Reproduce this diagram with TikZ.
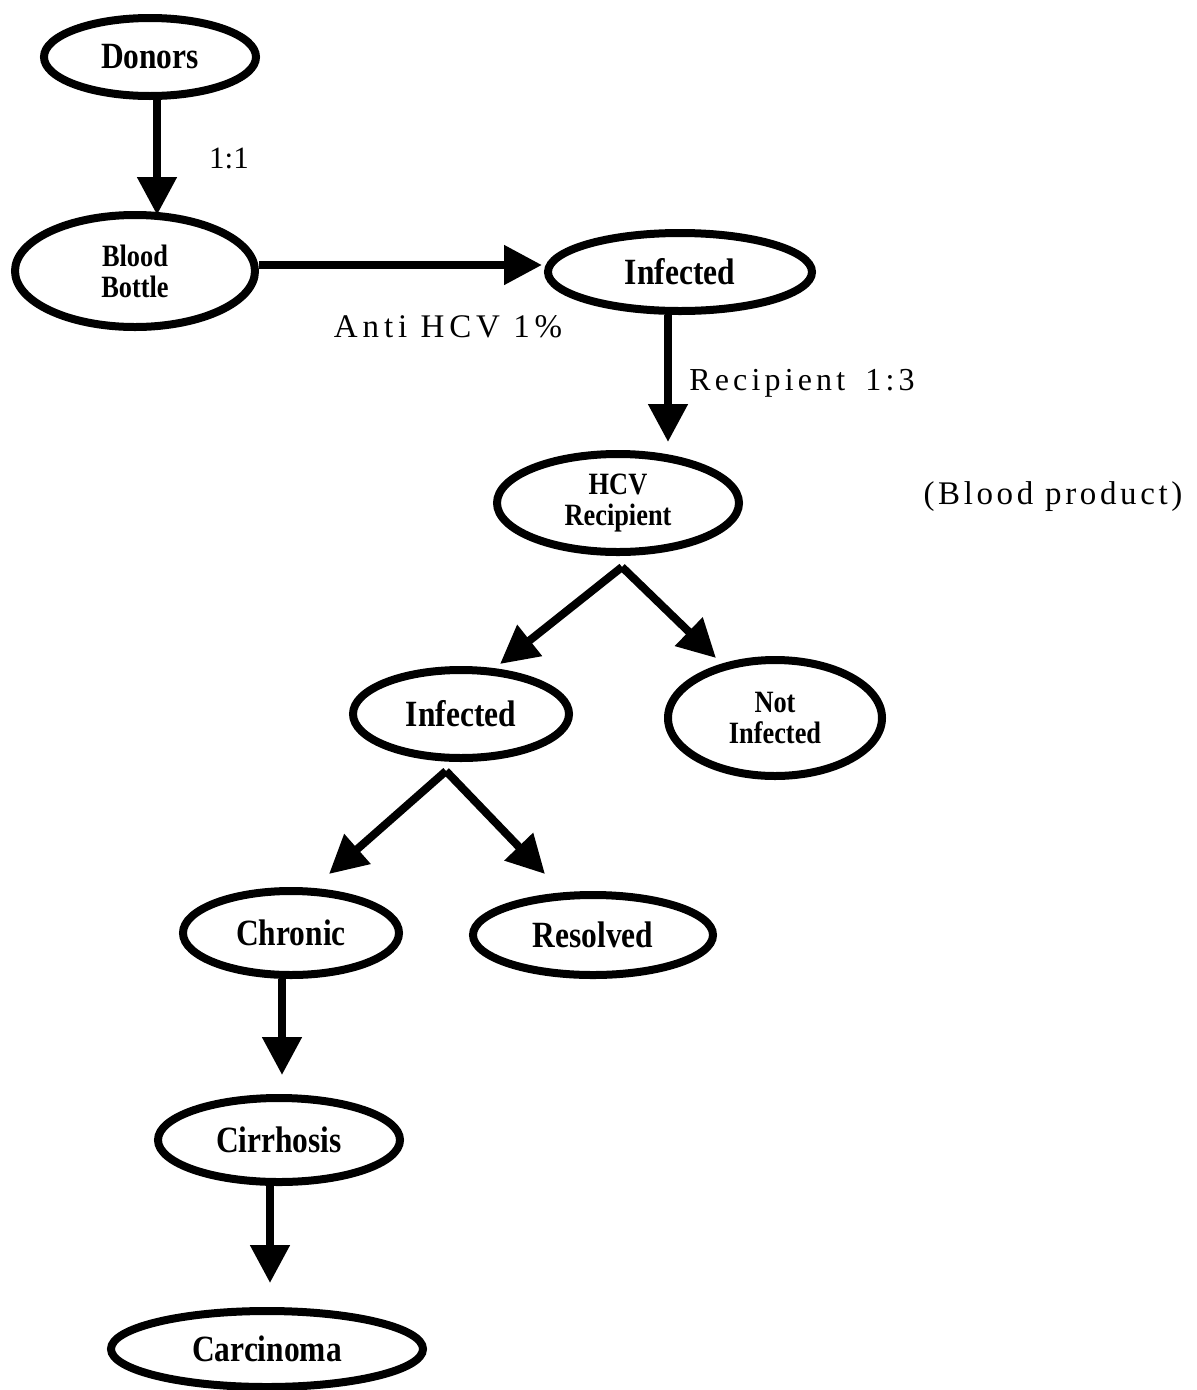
\documentclass[tikz,border=0pt]{standalone}
\usepackage{fontspec}
\setmainfont{Liberation Serif}
\newfontfamily\nodefont[FakeStretch=0.85]{Liberation Serif}
\newfontfamily\lblfont[LetterSpace=11]{Liberation Serif}
\newfontfamily\lblwide[LetterSpace=15]{Liberation Serif}
\newfontfamily\lblrec[LetterSpace=13]{Liberation Serif}
\usetikzlibrary{shapes.geometric,arrows.meta,calc}
\begin{document}
\begin{tikzpicture}[x=1pt,y=-1pt,
  ell/.style={draw, line width=8pt, ellipse, inner sep=0pt, align=center,
    font=\nodefont\bfseries\fontsize{37}{38}\selectfont},
  ells/.style={ell, font=\nodefont\bfseries\fontsize{31}{31}\selectfont},
  arr/.style={line width=8pt, -{Triangle[length=38pt,width=38pt]}},
  lbl/.style={inner sep=0pt, font=\lblfont\fontsize{33}{34}\selectfont}
]
\useasboundingbox (0,0) rectangle (1197,1390);
\fill[white] (0,0) rectangle (1197,1390);

% nodes
\node[ell, minimum width=212pt, minimum height=78pt] (donors) at (150,57) {Donors};
\node[ells, minimum width=240pt, minimum height=112pt] (bottle) at (135,271) {Blood\\Bottle};
\node[ell, minimum width=264pt, minimum height=78pt] (inf1) at (680,272) {Infected};
\node[ells, minimum width=242pt, minimum height=98pt] (hcv) at (618,503) {HCV\\Recipient};
\node[ell, minimum width=216pt, minimum height=88pt] (inf2) at (461,714) {Infected};
\node[ells, minimum width=214pt, minimum height=116pt] (notinf) at (775,718) {Not\\Infected};
\node[ell, minimum width=216pt, minimum height=84pt] (chronic) at (291,933) {Chronic};
\node[ell, minimum width=240pt, minimum height=80pt] (resolved) at (593,935) {Resolved};
\node[ell, minimum width=242pt, minimum height=84pt] (cirrhosis) at (279,1140) {Cirrhosis};
\node[ell, minimum width=312pt, minimum height=76pt] (carcinoma) at (267,1349) {Carcinoma};

% fork points
\coordinate (forkA) at ($(hcv.south)+(4,11)$);
\coordinate (forkB) at ($(inf2.south)+(-15,9)$);

% connectors
\draw[arr] ($(donors.south)+(7,0)$) -- ($(donors.south)+(7,115)$);
\draw[arr] (bottle.east |- 0,265) -- ($(inf1.west)+(-2,-7)$);
\draw[arr] ($(inf1.south)+(-12,0)$) -- ($(inf1.south)+(-12,127)$);
\draw[arr] (forkA) -- ($(inf2.north)+(39,-2)$);
\draw[arr] (forkA) -- ($(notinf.north)+(-59,2)$);
\draw[arr] (forkB) -- ($(chronic.north)+(38,-13)$);
\draw[arr] (forkB) -- ($(resolved.north)+(-48,-17)$);
\draw[arr] ($(chronic.south)+(-9,0)$) -- ($(chronic.south)+(-9,96)$);
\draw[arr] ($(cirrhosis.south)+(-9,0)$) -- ($(cirrhosis.south)+(-9,97)$);

% labels
\node[inner sep=0pt, font=\fontsize{31}{32}\selectfont] (l11) at (229,158) {1:1};
\node[lbl, font=\lblwide\fontsize{33}{34}\selectfont] (lanti) at (448,327) {Anti HCV 1\%};
\node[lbl, font=\lblrec\fontsize{32}{34}\selectfont] (lrec) at (802,383) {Recipient\hspace{8pt} 1:3};
\node[lbl] (lblood) at (1053,497) {(Blood product)};
\end{tikzpicture}
\end{document}
